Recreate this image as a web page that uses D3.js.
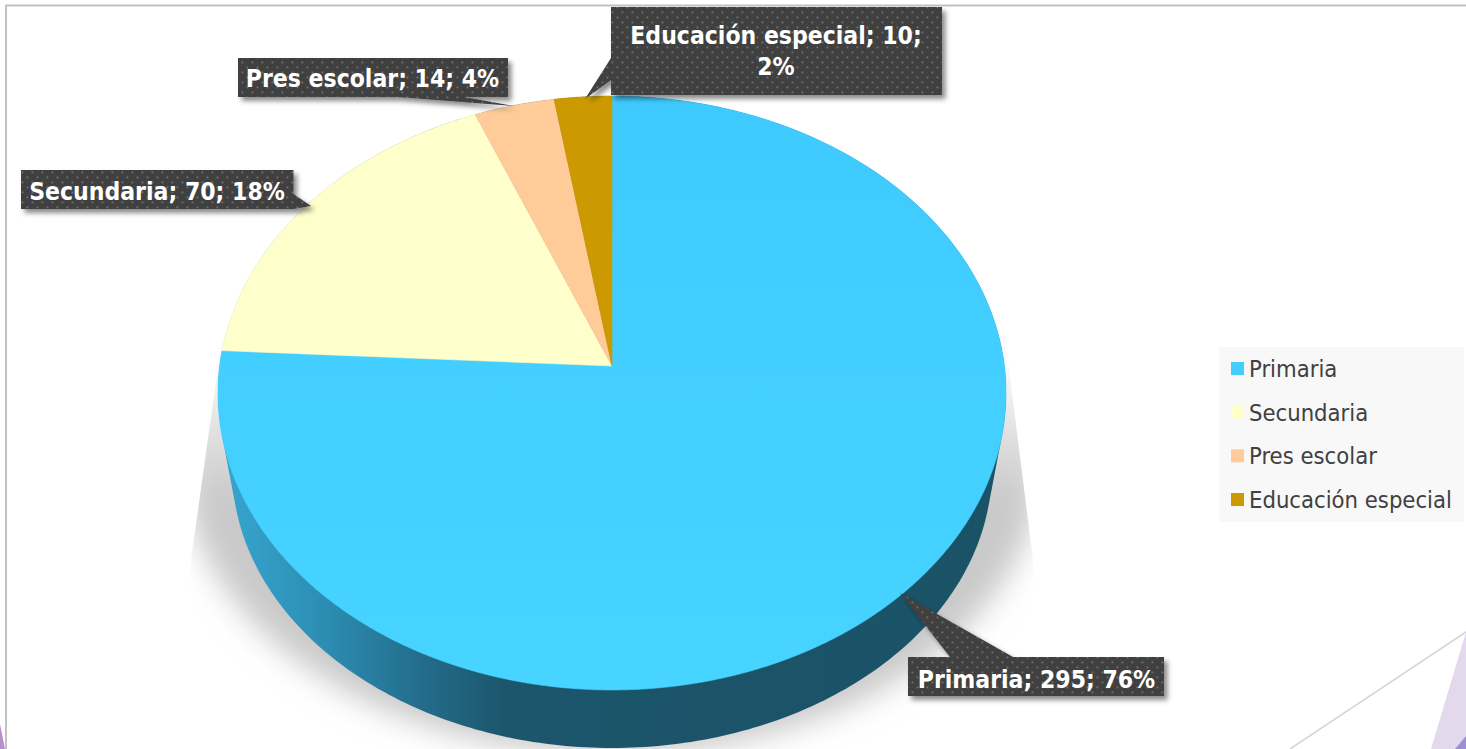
<!DOCTYPE html>
<html><head><meta charset="utf-8">
<script src="https://cdnjs.cloudflare.com/ajax/libs/d3/7.8.5/d3.min.js"></script>
<style>html,body{margin:0;padding:0;background:#fff;overflow:hidden}svg{display:block}</style>
</head><body><svg id="c" width="1466" height="749"></svg>
<script>
const categories = ["Primaria","Secundaria","Pres escolar","Educación especial"];
const values = [295,70,14,10];
const percents = ["76%","18%","4%","2%"];
const colors = ["#42cfff","#ffffcc","#ffcc99","#cc9900"];

const svg = d3.select("#c");
const defs = svg.append("defs");
const F = "'DejaVu Sans Condensed','DejaVu Sans',sans-serif";

// pie geometry: tilted disc (perspective projection of a circle)
const cx=612, apexY=366, a=392.4, b=294.5, k=0.0909;
const project = t => { const u=Math.sin(t), v=Math.cos(t), w=1+k*v; return [cx+a*u/w, apexY-b*v/w]; };
const arcs = d3.pie().sort(null)(values);
const line = d3.line();
const ell = (ex,ey,rx,ry) => d3.range(0,360,1).map(d=>[ex+rx*Math.cos(d*Math.PI/180), ey+ry*Math.sin(d*Math.PI/180)]);

// background decorations
svg.append("rect").attr("x",6).attr("y",5.5).attr("width",1470).attr("height",760).attr("fill","#fff").attr("stroke","#c2c2c2").attr("stroke-width",2);
svg.append("path").attr("d","M0,724L5,749L0,749Z").attr("fill","#b88fd0");
svg.append("path").attr("d","M1466,632L1290,749").attr("stroke","#d6d6d6").attr("stroke-width",1.6).attr("fill","none");
svg.append("path").attr("d","M1466,632L1466,749L1431,749Z").attr("fill","#e3d8ec");
svg.append("path").attr("d","M1466,736L1466,749L1455,749Z").attr("fill","#9c90d2");

// shadow
const blur = defs.append("filter").attr("id","blur").attr("filterUnits","userSpaceOnUse").attr("x",100).attr("y",250).attr("width",1100).attr("height",560);
blur.append("feGaussianBlur").attr("stdDeviation",15);
const sg = defs.append("linearGradient").attr("id","sg").attr("gradientUnits","userSpaceOnUse").attr("x1",0).attr("x2",0).attr("y1",345).attr("y2",500);
sg.append("stop").attr("offset",0).attr("stop-color","#c8c8c8").attr("stop-opacity",0);
sg.append("stop").attr("offset",1).attr("stop-color","#c9c9c9").attr("stop-opacity",1);
defs.append("clipPath").attr("id","sc").append("path").attr("d","M221,345L191,560L191,749L1033,749L1033,560L1006,345Z");
svg.append("g").attr("clip-path","url(#sc)").append("ellipse")
  .attr("cx",612).attr("cy",462).attr("rx",429).attr("ry",292).attr("fill","url(#sg)").attr("filter","url(#blur)");

// side wall
const wg = defs.append("linearGradient").attr("id","wg").attr("gradientUnits","userSpaceOnUse").attr("x1",225).attr("x2",1000).attr("y1",0).attr("y2",0);
[[0,"#37a5cf"],[0.13,"#2c8db2"],[0.24,"#24708f"],[0.36,"#1c566c"],[1,"#1a5266"]].forEach(s=>wg.append("stop").attr("offset",s[0]).attr("stop-color",s[1]));
const hull = d3.polygonHull(ell(612,393,394,297).concat(ell(612,468,380,280)));
svg.append("path").attr("d",line(hull)+"Z").attr("fill","url(#wg)");

// slight vertical sheen on the largest slice
const pg = defs.append("linearGradient").attr("id","pg").attr("gradientUnits","userSpaceOnUse").attr("x1",0).attr("x2",0).attr("y1",96).attr("y2",690);
pg.append("stop").attr("offset",0).attr("stop-color","#3fcaff");
pg.append("stop").attr("offset",1).attr("stop-color","#47d4ff");

// slices
const sliceG = svg.append("g");
sliceG.selectAll("path").data(arcs).join("path")
  .attr("d",d=>{
    const n=Math.max(8,Math.ceil((d.endAngle-d.startAngle)*180));
    const pts=d3.range(n+1).map(i=>project(d.startAngle+(d.endAngle-d.startAngle)*i/n));
    return line([[cx,apexY],...pts])+"Z";
  })
  .attr("fill",(d,i)=>i===0?"url(#pg)":colors[i])
  .attr("stroke",(d,i)=>i===0?"url(#pg)":colors[i]).attr("stroke-width",0.6);

// callouts
const pat = defs.append("pattern").attr("id","dots").attr("patternUnits","userSpaceOnUse").attr("width",10).attr("height",10);
pat.append("rect").attr("width",10).attr("height",10).attr("fill","#404040");
[[1.5,1.5],[6.5,6.5]].forEach(p=>pat.append("rect").attr("x",p[0]).attr("y",p[1]).attr("width",1.8).attr("height",1.8).attr("fill","#707070"));
const ds = defs.append("filter").attr("id","ds").attr("x","-10%").attr("y","-30%").attr("width","125%").attr("height","170%");
ds.append("feDropShadow").attr("dx",3.5).attr("dy",4).attr("stdDeviation",2.6).attr("flood-color","#000").attr("flood-opacity",0.45);

const callouts = [
 {i:0, shape:[[908,657],[950,657],[900,593],[1013,657],[1164,657],[1164,696],[908,696]], lines:[[1036.5,688]]},
 {i:1, shape:[[21,170],[293.5,170],[293.5,194],[311,206],[293.5,209],[21,209]], lines:[[157,200]]},
 {i:2, shape:[[238,58],[508,58],[508,97],[464,97],[514,106],[398,97],[238,97]], lines:[[372.5,87]]},
 {i:3, shape:[[611,7],[942,7],[942,95],[611,95],[611,80],[585,99],[611,58]], lines:[[776,44],[776,75]]}
];
const lab = svg.append("g");
callouts.forEach(c=>{
  const g=lab.append("g");
  g.append("path").attr("d",line(c.shape)+"Z").attr("fill","url(#dots)").attr("filter","url(#ds)");
  const full=`${categories[c.i]}; ${values[c.i]}; ${percents[c.i]}`;
  const txt = c.lines.length===2 ? [`${categories[c.i]}; ${values[c.i]};`, percents[c.i]] : [full];
  txt.forEach((t,j)=>g.append("text").attr("x",c.lines[j][0]).attr("y",c.lines[j][1]).attr("text-anchor","middle")
     .attr("fill","#fff").attr("font-family",F).attr("font-weight","bold").attr("font-size",24.5).text(t));
});

// legend
svg.append("rect").attr("x",1219).attr("y",347).attr("width",245).attr("height",175).attr("fill","#f8f8f8");
const legY = d3.scalePoint().domain(categories).range([368.5,499.5]);
const leg = svg.append("g").selectAll("g").data(categories).join("g");
leg.append("rect").attr("x",1231).attr("y",d=>legY(d)-6.5).attr("width",13).attr("height",13).attr("fill",(d,i)=>colors[i]);
leg.append("text").attr("x",1249).attr("y",d=>legY(d)+8.5).attr("fill","#404040").attr("font-family",F).attr("font-size",23.6).text(d=>d);
</script></body></html>
